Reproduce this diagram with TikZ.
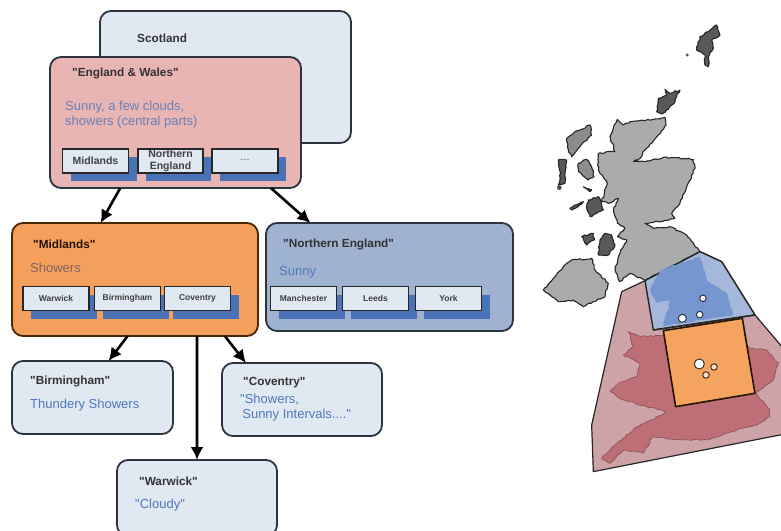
\documentclass[tikz,border=0pt]{standalone}
\usepackage{fontspec}
\setmainfont{Liberation Sans}[Ligatures=TeXOff]
\usetikzlibrary{calc,arrows.meta,decorations.pathmorphing}
\pgfmathsetseed{7}
\definecolor{paleblue}{HTML}{E0E8F1}
\definecolor{pinkbox}{HTML}{E9B5B3}
\definecolor{orangebox}{HTML}{F49F5C}
\definecolor{bluebox}{HTML}{9FB3D0}
\definecolor{shadowblue}{HTML}{4A72B6}
\definecolor{edgedark}{HTML}{2B3440}
\definecolor{bluetext}{HTML}{4F78BC}
\definecolor{mapgrey}{HTML}{A9ABAD}
\definecolor{wedge}{HTML}{CDA3A8}
\definecolor{wedgeland}{HTML}{BE6F76}
\definecolor{bluelight}{HTML}{A5B8DC}
\definecolor{blueland}{HTML}{7596CF}
\definecolor{orangemap}{HTML}{F4A45F}
\tikzset{
  panel/.style={draw=edgedark,line width=1.8pt,rounded corners=11pt,minimum width=#1,inner sep=0pt,outer sep=0pt},
  subbox/.style={draw=black!85,line width=1.8pt,fill=paleblue,minimum width=66pt,minimum height=24pt,inner sep=0pt,outer sep=0pt,
    font=\fontsize{8.5}{10}\selectfont\bfseries,text=black!75,align=center,
    preaction={draw=none,fill=shadowblue,transform canvas={shift={(8pt,-8pt)}}}},
  titletext/.style={anchor=west,inner sep=0pt,font=\fontsize{11.8}{14}\selectfont\bfseries,text=black!80},
  bodytext/.style={anchor=west,inner sep=0pt,font=\fontsize{13}{15}\selectfont,text=bluetext,align=left},
  link/.style={line width=2.6pt,draw=black,-{Latex[length=13pt,width=13pt]}},
  rough/.style={decorate,decoration={random steps,segment length=2.6pt,amplitude=.8pt}},
  land/.style={fill=mapgrey,draw=black!85,line width=1.1pt,line join=round,rough},
  isle/.style={fill=black!65,draw=black!85,line width=1.1pt,line join=round,rough},
  town/.style={circle,draw=black!85,line width=.9pt,inner sep=0pt,minimum size=#1},
}
\begin{document}
\begin{tikzpicture}[x=1pt,y=-1pt]
\useasboundingbox (0,0) rectangle (781,530);
\fill[white] (0,0) rectangle (781,530);
\clip (0,0) rectangle (781,530);

% panels
\node[panel=251pt,fill=paleblue,minimum height=132pt] (scot) at (225.5,77) {};
\node[panel=251pt,fill=pinkbox,minimum height=131pt] (eng) at (175.5,122.5) {};
\node[panel=246pt,draw=black!70!orange,fill=orangebox,minimum height=113pt] (mid) at (135,279.5) {};
\node[panel=247pt,fill=bluebox,minimum height=108pt] (north) at (389.5,277) {};
\node[panel=161pt,fill=paleblue,minimum height=73pt] (birm) at (92.5,397.5) {};
\node[panel=160pt,fill=paleblue,minimum height=73pt] (cov) at (302,399.5) {};
\node[panel=160pt,fill=paleblue,minimum height=76pt] (war) at (197,498) {};

% panel texts
\node[titletext] (t1) at (137,38.5) {Scotland};
\node[titletext] (t2) at (72,73) {"England \& Wales"};
\node[bodytext,text=bluetext!85!pinkbox] (b2) at (65,114.5) {Sunny, a few clouds,\\showers (central parts)};
\node[titletext,text=black!85!orange] (t3) at (33,244) {"Midlands"};
\node[bodytext,text=black!45!bluetext!60!orangebox] (b3) at (30,268) {Showers};
\node[titletext] (t4) at (283,244) {"Northern England"};
\node[bodytext] (b4) at (279,272) {Sunny};
\node[titletext] (t5) at (30,381) {"Birmingham"};
\node[bodytext] (b5) at (30,405) {Thundery Showers};
\node[titletext] (t6) at (243,383) {"Coventry"};
\node[bodytext] (b6) at (240,408) {"Showers,\\\,Sunny Intervals...."};
\node[titletext] (t7) at (139,481) {"Warwick"};
\node[bodytext] (b7) at (135,505) {"Cloudy"};

% inner boxes
\node[subbox,font=\fontsize{10.5}{12}\selectfont\bfseries] (s1) at (95.5,161) {Midlands};
\node[subbox,minimum width=65pt,font=\fontsize{10.5}{12}\selectfont\bfseries] (s2) at (170.5,161) {Northern\\England};
\node[subbox,font=\fontsize{9}{12}\selectfont,text=black!50] (s3) at (245,161) {---};
\node[subbox] (m1) at (56,298.5) {Warwick};
\node[subbox] (m2) at (127.5,298.5) {Birmingham};
\node[subbox] (m3) at (197.5,298.5) {Coventry};
\node[subbox] (n1) at (303.5,298.5) {Manchester};
\node[subbox] (n2) at (375.5,298.5) {Leeds};
\node[subbox] (n3) at (448.5,298.5) {York};

% connectors
\draw[link] ($(eng.south west)!.28!(eng.south east)$) -- ($(mid.north west)!.36!(mid.north east)$);
\draw[link] ($(eng.south west)!.88!(eng.south east)$) -- ($(north.north west)!.18!(north.north east)$);
\draw[link] ($(mid.south west)!.47!(mid.south east)$) -- ($(birm.north west)!.60!(birm.north east)$);
\draw[link] ($(mid.south west)!.752!(mid.south east)$) -- ($(war.north west)!.5!(war.north east)$);
\draw[link] ($(mid.south west)!.865!(mid.south east)$) -- ($(cov.north west)!.15!(cov.north east)$);

% map, in the units of a 3x view
\begin{scope}[shift={(530,10)},x=.3333pt,y=-.3333pt]
\draw[isle] (560,45)--(570,75)--(545,90)--(550,115)--(535,140)--(535,170)--(525,165)--(525,135)--(500,120)--(510,80)--(535,65)--cycle;
\fill[black!70] (472,135) circle (5);
\draw[isle] (405,238)--(420,250)--(450,240)--(440,260)--(435,275)--(410,300)--(395,312)--(380,305)--(385,265)--(410,255)--cycle;
\draw[isle,fill=black!45] (110,385)--(135,365)--(180,345)--(185,375)--(150,410)--(125,440)--(115,420)--cycle;
\draw[isle] (85,450)--(110,450)--(105,490)--(105,520)--(85,525)--(92,490)--cycle;
\fill[black!70] (88,533) circle (7);
\draw[isle,fill=black!45] (145,460)--(170,448)--(185,470)--(192,500)--(175,510)--(145,485)--cycle;
\draw[isle] (160,530)--(185,540)--(180,545)--cycle;
\draw[isle] (120,595)--(160,575)--(155,582)--(125,600)--cycle;
\draw[isle] (175,570)--(205,560)--(220,600)--(180,620)--(170,590)--cycle;
\draw[isle] (155,680)--(190,670)--(192,690)--(170,705)--cycle;
\draw[isle] (210,690)--(225,670)--(245,675)--(255,705)--(235,735)--(205,735)--cycle;
% Scotland and northern England
\draw[land] (262,328)--(280,345)--(300,335)--(345,332)--(405,322)--(408,345)--(385,375)--(345,420)--(330,445)--(310,455)--(345,455)--(400,442)--(490,448)--(495,475)--(470,530)--(450,580)--(425,610)--(435,625)--(385,635)--(345,640)--(370,655)--(420,650)--(470,675)--(510,725)--(345,812)--(300,790)--(270,815)--(255,775)--(270,730)--(290,690)--(262,680)--(285,655)--(262,640)--(250,600)--(265,565)--(235,580)--(215,575)--(232,520)--(205,480)--(205,430)--(255,425)--(240,380)--cycle;
\end{scope}

\begin{scope}[shift={(530,240)},x=.3333pt,y=-.3333pt]
\draw[land] (40,150)--(70,115)--(100,80)--(125,60)--(185,55)--(195,90)--(235,130)--(225,170)--(190,185)--(160,200)--(130,180)--(85,185)--(60,165)--cycle;
\draw[fill=wedge,draw=black!85,line width=1.2pt,line join=round] (275,155)--(345,122)--(510,35)--(575,65)--(675,225)--(760,325)--(760,583)--(190,695)--(185,555)--cycle;
\fill[wedgeland,draw=wedgeland!70!black,line width=.6pt,rough] (215,655)--(260,610)--(320,560)--(365,540)--(410,515)--(350,500)--(280,480)--(240,455)--(265,430)--(320,410)--(330,370)--(280,345)--(310,320)--(295,275)--(330,290)--(400,285)--(640,300)--(660,325)--(710,330)--(745,370)--(730,420)--(675,460)--(720,510)--(720,530)--(680,555)--(620,570)--(530,600)--(450,600)--(370,590)--(340,640)--(280,630)--(240,670)--cycle;
\draw[fill=bluelight,draw=black!85,line width=1.4pt,line join=round] (345,122)--(510,35)--(575,65)--(675,225)--(370,270)--cycle;
\fill[blueland,rough] (360,150)--(380,190)--(420,180)--(400,258)--(610,225)--(590,160)--(535,125)--(510,50)--(390,90)--cycle;
\draw[black!85,line width=1.4pt] (370,270)--(675,225);
\draw[fill=orangemap,draw=black!85!orange,line width=1.6pt,line join=round] (400,272)--(637,235)--(675,460)--(437,500)--cycle;
\node[town=6.5pt,fill=white] (c1) at (519,175) {};
\node[town=8pt,fill=white] (c2) at (457,235) {};
\node[town=6.5pt,fill=white] (c3) at (509,224) {};
\node[town=10pt,fill=white] (c4) at (508,372) {};
\node[town=6.5pt,fill=orangemap!40] (c5) at (552,381) {};
\node[town=6.5pt,fill=orangemap!40] (c6) at (528,405) {};
\end{scope}
\end{tikzpicture}
\end{document}
